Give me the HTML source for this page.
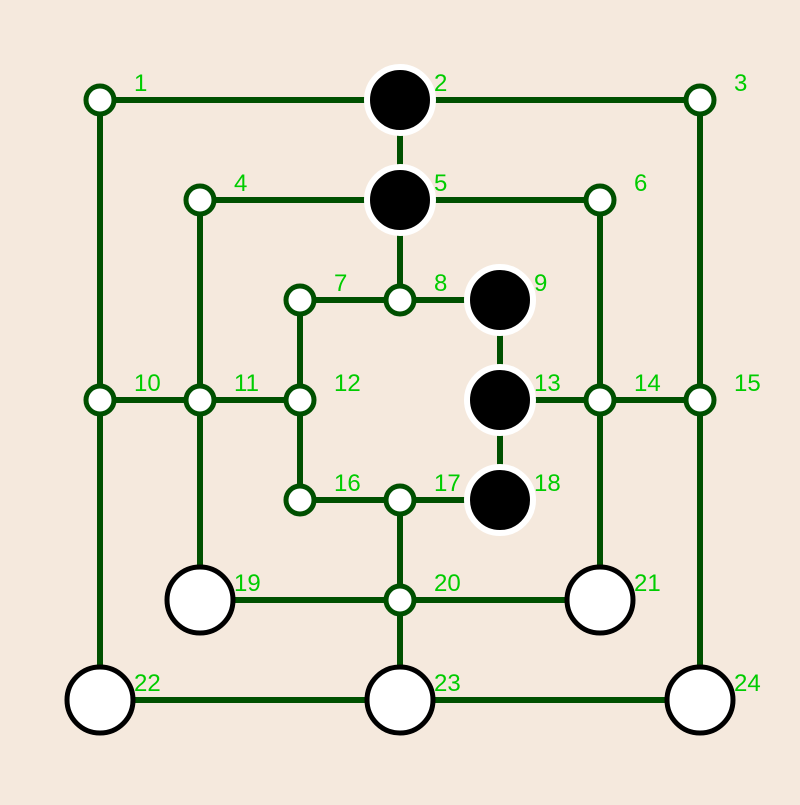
<!DOCTYPE html>
<html><head><meta charset="utf-8"><style>html,body{margin:0;padding:0;background:#f5e9dd}</style></head>
<body>
<svg width="800" height="800" viewBox="0 0 800 800" xmlns="http://www.w3.org/2000/svg">
<rect width="800" height="800" fill="#f5e9dd"/>
<g stroke="#005000" stroke-width="6" fill="none">
<path d="M100 100H700V700H100Z"/>
<path d="M200 200H600V600H200Z"/>
<path d="M300 300H500V500H300Z"/>
<path d="M400 100V300M400 500V700M100 400H300M500 400H700"/>
</g>
<g stroke="#005000" stroke-width="5" fill="#fff">
<circle cx="100" cy="100" r="14"/><circle cx="700" cy="100" r="14"/>
<circle cx="200" cy="200" r="14"/><circle cx="600" cy="200" r="14"/>
<circle cx="300" cy="300" r="14"/><circle cx="400" cy="300" r="14"/>
<circle cx="100" cy="400" r="14"/><circle cx="200" cy="400" r="14"/><circle cx="300" cy="400" r="14"/>
<circle cx="600" cy="400" r="14"/><circle cx="700" cy="400" r="14"/>
<circle cx="300" cy="500" r="14"/><circle cx="400" cy="500" r="14"/>
<circle cx="400" cy="600" r="14"/>
</g>
<g fill="#000" stroke="#fff" stroke-width="6">
<circle cx="400" cy="100" r="33"/><circle cx="400" cy="200" r="33"/>
<circle cx="500" cy="300" r="33"/><circle cx="500" cy="400" r="33"/><circle cx="500" cy="500" r="33"/>
</g>
<g fill="#fff" stroke="#000" stroke-width="5">
<circle cx="200" cy="600" r="33"/><circle cx="600" cy="600" r="33"/>
<circle cx="100" cy="700" r="33"/><circle cx="400" cy="700" r="33"/><circle cx="700" cy="700" r="33"/>
</g>
<g fill="#00cc00" font-family="Liberation Sans, sans-serif" font-size="24">
<text x="134" y="91">1</text><text x="434" y="91">2</text><text x="734" y="91">3</text>
<text x="234" y="191">4</text><text x="434" y="191">5</text><text x="634" y="191">6</text>
<text x="334" y="291">7</text><text x="434" y="291">8</text><text x="534" y="291">9</text>
<text x="134" y="391">10</text><text x="234" y="391">11</text><text x="334" y="391">12</text>
<text x="534" y="391">13</text><text x="634" y="391">14</text><text x="734" y="391">15</text>
<text x="334" y="491">16</text><text x="434" y="491">17</text><text x="534" y="491">18</text>
<text x="234" y="591">19</text><text x="434" y="591">20</text><text x="634" y="591">21</text>
<text x="134" y="691">22</text><text x="434" y="691">23</text><text x="734" y="691">24</text>
</g>
</svg>
</body></html>
